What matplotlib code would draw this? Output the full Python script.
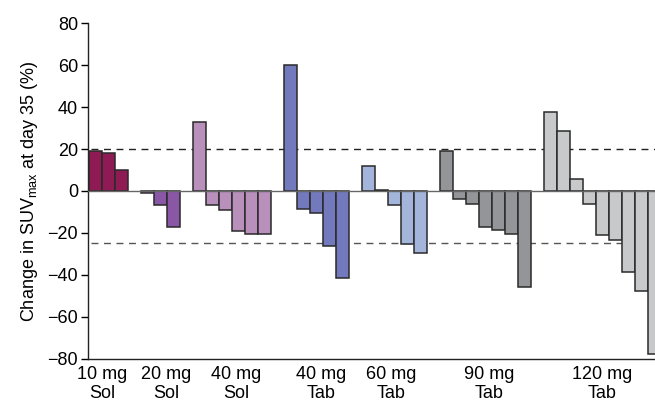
from matplotlib import pyplot as plt
from matplotlib import transforms
import numpy as np

plt.rcParams['font.family'] = ['Liberation Sans', 'DejaVu Sans']

groups = ['10 mg\nSol', '20 mg\nSol', '40 mg\nSol', '40 mg\nTab',
          '60 mg\nTab', '90 mg\nTab', '120 mg\nTab']
g10sol = [19, 18, 10]
g20sol = [-1, -6.5, -17]
g40sol = [33, -6.5, -9, -19, -20.5, -20.5]
g40tab = [60, -8.5, -10.5, -26.5, -41.5]
g60tab = [12, 0.5, -6.5, -25.5, -29.5]
g90tab = [19, -4, -6, -17, -18.5, -20.5, -46]
g120tab = [37.5, 28.5, 5.5, -6, -21, -23.5, -38.5, -47.5, -78]
colors = ['#8E1B54', '#8A56A6', '#B98FBC', '#7279BD',
          '#A3B5DB', '#939598', '#C8C9CB']

data = [g10sol, g20sol, g40sol, g40tab, g60tab, g90tab, g120tab]

fig = plt.figure(figsize=(6.55, 4.08), dpi=100)
ax = fig.add_axes([0.134, 0.121, 0.905, 0.822])

pos = 0
centers = []
for vals, c in zip(data, colors):
    x = pos + np.arange(len(vals))
    ax.bar(x, vals, width=1.0, color=c, edgecolor='#2a2a2a', linewidth=1.1, zorder=3)
    centers.append(x.mean())
    pos += len(vals) + 1

ax.axhline(0, color='#666666', lw=1.0, zorder=4)
ax.axhline(20, xmin=0.005, color='#222222', lw=1.0, dashes=(5, 4), zorder=2)
ax.axhline(-25, xmin=0.005, color='#555555', lw=1.0, dashes=(5, 4), zorder=2)

ax.set_xlim(-0.6, 45)
ax.set_ylim(-80, 80)
ax.set_yticks(np.arange(-80, 81, 20))
ax.set_yticklabels([str(v).replace('-', '\u2212') for v in range(-80, 81, 20)])
ax.set_xticks(centers)
ax.set_xticklabels(groups)
ax.tick_params(axis='x', length=0, pad=5, labelsize=13)
ax.tick_params(axis='y', length=5, width=1, pad=2, labelsize=13, direction='out')
ax.set_ylabel('Change in SUV$_{\\mathregular{max}}$ at day 35 (%)', fontsize=13, labelpad=5)

# the group labels are not exactly centred under their bars in the original
nudge = [-6, 6, 4, 5, -3, 4, 0]
for lab, dx in zip(ax.get_xticklabels(), nudge):
    lab.set_transform(lab.get_transform() + transforms.ScaledTranslation(dx / 100, 0, fig.dpi_scale_trans))

ax.spines['top'].set_visible(False)
ax.spines['right'].set_visible(False)
ax.spines['left'].set_linewidth(1.0)
ax.spines['bottom'].set_linewidth(1.0)
ax.spines['left'].set_color('#222222')
ax.spines['bottom'].set_color('#222222')

fig.savefig('out.png', dpi=100)
